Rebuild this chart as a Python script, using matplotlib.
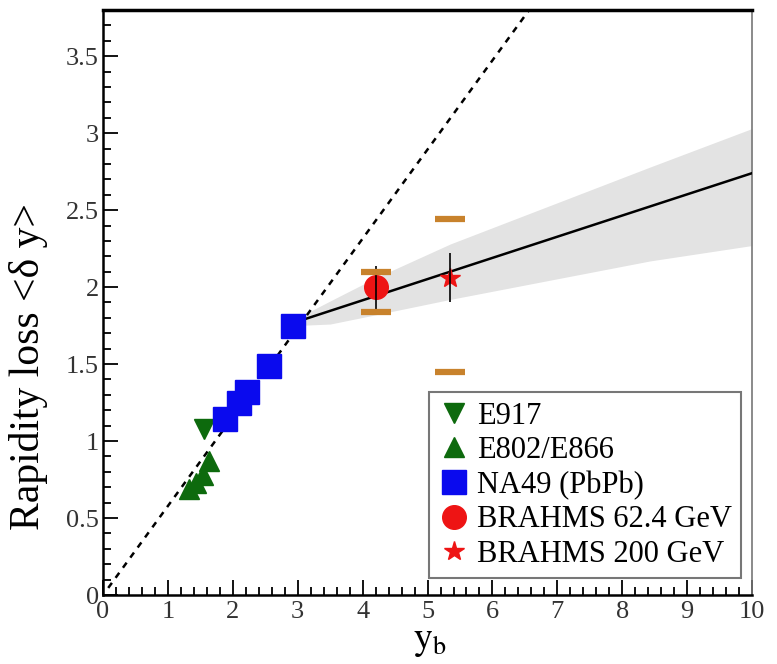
import numpy as np
import matplotlib
matplotlib.use("Agg")
import matplotlib.pyplot as plt
from matplotlib.ticker import MultipleLocator, FormatStrFormatter

plt.rcParams['font.family'] = ['Liberation Serif', 'DejaVu Serif']
plt.rcParams['mathtext.fontset'] = 'stix'

# data
e917_x = [1.55]
e917_y = [1.08]

e802_x = [1.32, 1.43, 1.54, 1.64]
e802_y = [0.69, 0.73, 0.78, 0.87]

na49_x = [1.88, 2.09, 2.22, 2.56, 2.92]
na49_y = [1.14, 1.245, 1.32, 1.49, 1.75]

b62_x, b62_y = 4.2, 2.0
b62_err = (0.15, 0.14)        # stat (down, up)
b62_sys = (1.84, 2.10)

b200_x, b200_y = 5.35, 2.06
b200_err = (0.16, 0.16)
b200_sys = (1.45, 2.44)

# dashed reference line
dash_x = [0.08, 6.6]
dash_y = [0.046, 3.82]

# fit line and band
fit_x = [2.95, 10.0]
fit_y = [1.77, 2.74]
band_x = [2.95, 3.5, 4.2, 5.35, 8.43, 10.0]
band_hi = [1.79, 1.91, 2.06, 2.28, 2.78, 3.03]
band_lo = [1.75, 1.76, 1.82, 1.92, 2.17, 2.27]

green = '#0d6a0d'
blue = '#0a0aee'
red = '#ee1414'
orange = '#c8822c'

fig = plt.figure(figsize=(7.77, 6.64), dpi=100)
ax = fig.add_axes([0.1326, 0.1039, 0.8353, 0.8811])

ax.fill_between(band_x, band_lo, band_hi, color='#e3e3e3', lw=0, zorder=1)
ax.plot(dash_x, dash_y, 'k--', lw=1.8, dashes=(2.5, 2.5), zorder=2)
ax.plot(fit_x, fit_y, 'k-', lw=1.8, zorder=3)

ax.plot(e917_x, e917_y, 'v', color=green, ms=15, ls='none', label='E917', zorder=4)
ax.plot(e802_x, e802_y, '^', color=green, ms=15, ls='none', label='E802/E866', zorder=4)
ax.plot(na49_x, na49_y, 's', color=blue, ms=17, ls='none', label='NA49 (PbPb)', zorder=4)

ax.plot([b62_x], [b62_y], 'o', color=red, ms=17, ls='none', label='BRAHMS 62.4 GeV', zorder=4)
ax.vlines(b62_x, b62_y - b62_err[0], b62_y + b62_err[1], color='k', lw=1.2, zorder=5)
ax.plot([b62_x, b62_x], b62_sys, '_', color=orange, ms=21, mew=4.5, ls='none', zorder=5)

ax.plot([b200_x], [b200_y], '*', color=red, ms=15, ls='none', label='BRAHMS 200 GeV', zorder=4)
ax.vlines(b200_x, b200_y - b200_err[0], b200_y + b200_err[1], color='k', lw=1.2, zorder=5)
ax.plot([b200_x, b200_x], b200_sys, '_', color=orange, ms=21, mew=4.5, ls='none', zorder=5)

ax.set_xlim(0, 10)
ax.set_ylim(0, 3.8)
ax.xaxis.set_major_locator(MultipleLocator(1))
ax.xaxis.set_minor_locator(MultipleLocator(0.2))
ax.yaxis.set_major_locator(MultipleLocator(0.5))
ax.yaxis.set_minor_locator(MultipleLocator(0.1))
ax.yaxis.set_major_formatter(FormatStrFormatter('%g'))
ax.tick_params(which='both', direction='in', top=False, right=False,
               labelsize=19, labelcolor='#333333', width=1.3)
ax.tick_params(which='major', length=11)
ax.tick_params(which='minor', length=6)
ax.tick_params(axis='x', pad=4)
ax.tick_params(axis='y', pad=3)

for side in ['left', 'bottom']:
    ax.spines[side].set_linewidth(1.8)
ax.spines['top'].set_linewidth(2.5)
ax.spines['right'].set_linewidth(1.2)
ax.spines['right'].set_color('#777777')

ax.set_xlabel(r'$\mathrm{y}_\mathrm{b}$', fontsize=27)
ax.xaxis.set_label_coords(0.503, -0.05)
ax.set_ylabel('Rapidity loss <δ y>', fontsize=30)
ax.yaxis.set_label_coords(-0.085, 0.39)

leg = ax.legend(loc='lower right', bbox_to_anchor=(0.983, 0.029), borderaxespad=0,
                fancybox=False, fontsize=22, handletextpad=0.25, handlelength=1.0,
                labelspacing=0.18, borderpad=0.3, edgecolor='#555555')
leg.get_frame().set_linewidth(1.5)

fig.savefig('out.png', dpi=100)
